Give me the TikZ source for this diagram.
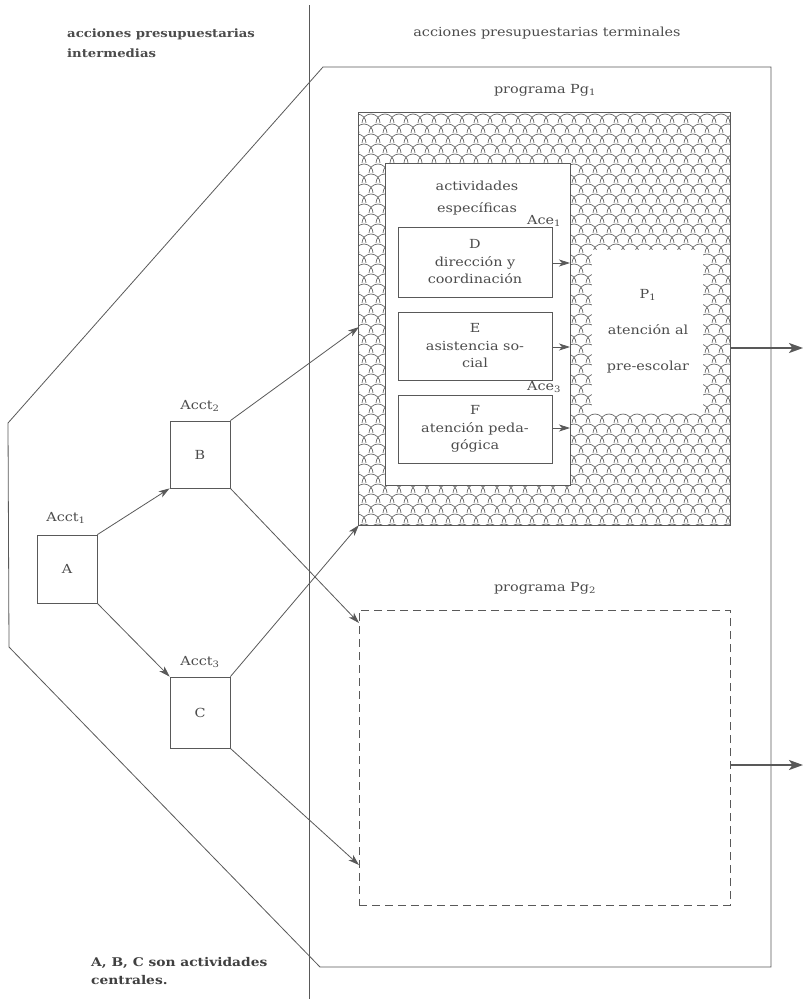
\documentclass[tikz,border=0pt]{standalone}
\usepackage{fontspec}
\setmainfont{DejaVu Serif}[FakeStretch=1.15]
\usetikzlibrary{arrows.meta}
\definecolor{lc}{gray}{0.35}
\definecolor{tc}{gray}{0.30}
\definecolor{hc}{gray}{0.42}
\begin{document}
\begin{tikzpicture}[x=1pt,y=-1pt,
  line/.style={draw=lc, line width=0.8pt},
  box/.style={line, rectangle, inner sep=0pt, text=tc, align=center},
  lbl/.style={text=tc, inner sep=0pt, align=center},
  arr/.style={draw=lc, line width=0.8pt, -{Stealth[length=11pt,width=7pt,inset=3pt]}},
  outarr/.style={draw=lc, line width=2pt, -{Stealth[length=14pt,width=10pt,inset=3.5pt]}},
  txt/.style={font={\fontsize{12.5}{17.5}\selectfont}},
  hdr/.style={font={\fontsize{12.5}{20}\selectfont}}]
\useasboundingbox (0,0) rectangle (806,999);
\fill[white] (0,0) rectangle (806,999);

% divider
\coordinate (dtop) at (309,5);
\coordinate (dbot) at (309,999);
\draw[line] (dtop) -- (dbot);

% headers
\node[lbl, anchor=west, align=left, text=black!70, font={\fontsize{11.5}{20}\selectfont\bfseries}] (h1) at (67,43) {acciones presupuestarias\\intermedias};
\node[lbl, hdr] (h2) at (547,33) {acciones presupuestarias terminales};
\node[lbl, anchor=west, align=left, text=black!75, font={\fontsize{12}{18}\selectfont\bfseries}] (note) at (91,971) {A, B, C son actividades\\centrales.};

% outer polygon
\coordinate (p1) at (323,67);
\coordinate (p2) at (771,67);
\coordinate (p3) at (771,967);
\coordinate (p4) at (320,967);
\coordinate (p5) at (9,647);
\coordinate (p6) at (8,423);
\draw[line] (p1) -- (p2) -- (p3) -- (p4) -- (p5) -- (p6) -- cycle;

% programa Pg1
\node[lbl, txt] (pg1t) at (545,90) {programa Pg\textsubscript{1}};
\node[rectangle, minimum width=371pt, minimum height=412pt, inner sep=0pt] (pg1) at (544.5,319) {};
\begin{scope}
  \clip (pg1.south west) rectangle (pg1.north east);
  \foreach \j in {0,...,43} {
    \pgfmathsetmacro\yy{104+\j*10}
    \pgfmathsetmacro\off{mod(\j,2)*7}
    \foreach \i in {0,...,28} {
      \draw[hc, line width=0.7pt] (350+\off+\i*14+9,\yy+9) arc[start angle=0, end angle=-180, radius=9];
    }
  }
\end{scope}
\draw[line] (pg1.south west) rectangle (pg1.north east);

% actividades especificas
\node[box, fill=white, minimum width=185pt, minimum height=322pt] (esp) at (477.5,324) {};
\node[lbl, txt, font={\fontsize{12.5}{22}\selectfont}] (espt) at (477,198) {actividades\\específicas};
\node[lbl, txt, anchor=west] (ace1) at (527,221) {Ace\textsubscript{1}};
\node[lbl, txt, anchor=west] (ace3) at (527,387) {Ace\textsubscript{3}};
\node[box, txt, minimum width=154pt, minimum height=70pt] (D) at (475,262) {D\\dirección y\\coordinación};
\node[box, txt, minimum width=154pt, minimum height=68pt] (E) at (475,346) {E\\asistencia so-\\cial};
\node[box, txt, minimum width=154pt, minimum height=68pt] (F) at (475,429) {F\\atención peda-\\gógica};
\coordinate (eD) at (570,263);
\coordinate (eE) at (570,347);
\coordinate (eF) at (570,428);

% P1 area
\node[rectangle, fill=white, minimum width=111pt, minimum height=163pt, inner sep=0pt] (P1) at (647.5,331.5) {};
\node[lbl, txt, font={\fontsize{12.5}{36}\selectfont}] (P1t) at (648,331) {P\textsubscript{1}\\atención al\\pre-escolar};

% programa Pg2
\node[lbl, txt] (pg2t) at (545,588) {programa Pg\textsubscript{2}};
\node[rectangle, draw=lc, line width=0.8pt, dash pattern=on 8pt off 5pt, minimum width=371pt, minimum height=295pt, inner sep=0pt] (pg2) at (544.5,757.5) {};

% A, B, C
\node[box, minimum width=60pt, minimum height=68pt, txt] (A) at (67,569) {A};
\node[box, minimum width=60pt, minimum height=67pt, txt] (B) at (200,454.5) {B};
\node[box, minimum width=60pt, minimum height=71pt, txt] (C) at (200,712.5) {C};
\node[lbl, txt] (a1) at (66,518) {Acct\textsubscript{1}};
\node[lbl, txt] (a2) at (200,406) {Acct\textsubscript{2}};
\node[lbl, txt] (a3) at (200,662) {Acct\textsubscript{3}};

% connectors
\coordinate (tB1) at (359,327);
\coordinate (tB2) at (359,623);
\coordinate (tC2) at (359,865);
\draw[arr] (A.north east) -- (B.south west);
\draw[arr] (A.south east) -- (C.north west);
\draw[arr] (B.north east) -- (tB1);
\draw[arr] (B.south east) -- (tB2);
\draw[arr] (C.north east) -- (pg1.south west);
\draw[arr] (C.south east) -- (tC2);
\draw[arr] (D.east |- eD) -- (eD);
\draw[arr] (E.east |- eE) -- (eE);
\draw[arr] (F.east |- eF) -- (eF);

% outputs
\coordinate (o1) at (803,348);
\coordinate (o2) at (803,765);
\draw[outarr] (pg1.east |- o1) -- (o1);
\draw[outarr] (pg2.east |- o2) -- (o2);
\end{tikzpicture}
\end{document}
